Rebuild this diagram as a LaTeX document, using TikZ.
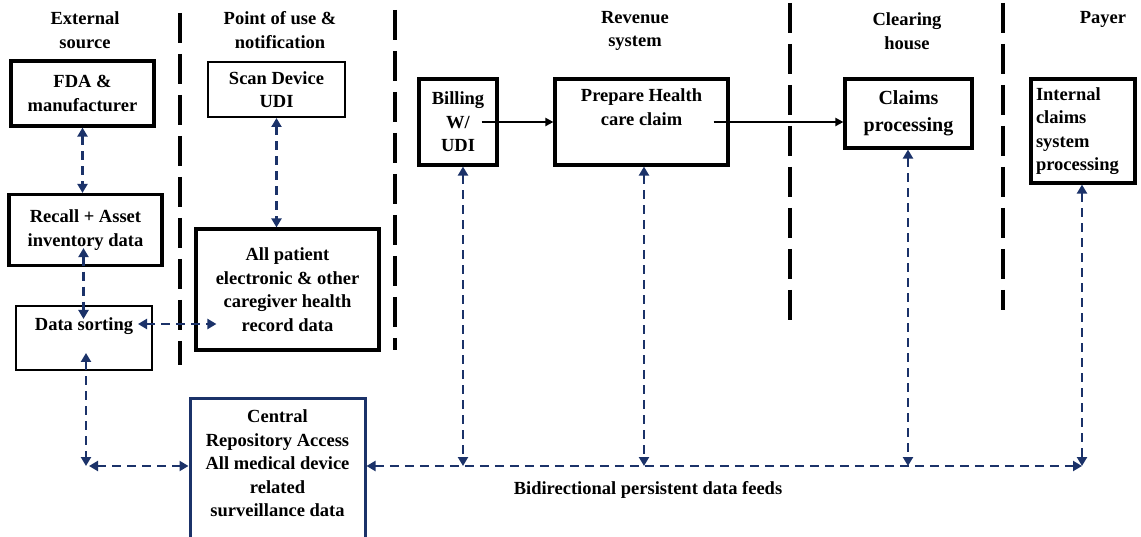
\documentclass[tikz,border=0pt]{standalone}
\usepackage{fontspec}
\setmainfont{Liberation Serif}
\usetikzlibrary{arrows.meta,calc}

\definecolor{navy}{RGB}{27,50,105}

\tikzset{
  box/.style={draw, line width=3.2pt, align=center},
  thinbox/.style={draw, line width=2pt, align=center},
  head/.style={align=center},
  feed/.style={navy, line width=2.6pt, dash pattern=on 9pt off 6pt,
    {Triangle[length=9pt,width=10pt]}-{Triangle[length=9pt,width=10pt]}},
  flow/.style={line width=2pt, -{Triangle[length=8pt,width=8pt]}},
  sep/.style={line width=3.8pt, dash pattern=on 30pt off 11pt},
  toplabel/.style={anchor=north, align=center, yshift=#1}
}

\begin{document}
\begin{tikzpicture}[x=1pt, y=-1pt, font=\bfseries\fontsize{18.5}{23.5}\selectfont]

        \useasboundingbox (0,0) rectangle (1141,537);

        % column headings
        \node[head] (hext) at (85,30) {External\\source};
        \node[head] (huse) at (280,30) {Point of use \&\\notification};
        \node[head] (hrev) at (635,31) {Revenue\\system};
        \node[head] (hclear) at (907,31) {Clearing\\house};
        \node[head] (hpayer) at (1103,19) {Payer};

        \draw[sep] (180,13) -- (180,365);
        \draw[sep] (395,10) -- (395,350);
        \draw[sep] (790,3) -- (790,320);
        \draw[sep] (1003,3) -- (1003,310);

        \node[box, minimum width=143pt, minimum height=65pt] (fda) at (82.5,93.5) {FDA \&\\manufacturer};
        \node[thinbox, minimum width=137pt, minimum height=55pt] (scan) at (276.5,89.5) {Scan Device\\UDI};
        \node[box, minimum width=153pt, minimum height=71pt] (recall) at (85.5,230) {Recall + Asset\\inventory data};
        \node[box, minimum width=183pt, minimum height=121pt] (patient) at (287.5,289.5) {All patient\\electronic \& other\\caregiver health\\record data};
        \node[thinbox, minimum width=136pt, minimum height=64pt,
          label={[toplabel=-9pt]north:Data sorting}] (sorting) at (84,338) {};
        \node[draw=navy, line width=3pt, minimum width=175pt, minimum height=150pt,
          label={[toplabel=-10pt]north:Central\\Repository Access\\All medical device\\related\\surveillance data}] (central) at (277.5,473) {};

        \node[box, minimum width=78pt, minimum height=86pt] (billing) at (458,122) {Billing\\W/\\UDI};
        \node[box, minimum width=173pt, minimum height=86pt,
          label={[toplabel=-8pt]north:Prepare Health\\care claim}] (prepare) at (641.5,122) {};
        \node[box, minimum width=127pt, minimum height=69pt,
          font=\bfseries\fontsize{20}{27}\selectfont] (claims) at (908.5,113.5) {Claims\\processing};
        \node[box, align=left, text width=94pt, inner sep=5pt, minimum height=104pt] (internal) at (1083,131) {Internal\\claims\\system\\processing};

        \node (feeds) at (648,490) {Bidirectional persistent data feeds};

        \coordinate (corner) at (86,466);
        \coordinate (b1) at (463,466);
        \coordinate (b2) at (644,466);
        \coordinate (b3) at (908,466);
        \coordinate (b4) at (1082,466);

        \draw[flow] ($(billing.east)+(-17,0)$) -- (prepare.west);
        \draw[flow] ($(prepare.east)+(-16,0)$) -- (prepare.east -| claims.west);

        \draw[feed] (fda.south) -- (fda.south |- recall.north);
        \draw[feed] (scan.south) -- (scan.south |- patient.north);
        \draw[feed] ($(recall.south)+(-2,-19)$) -- ($(recall.south |- sorting.north)+(-2,14)$);
        \draw[feed] ($(sorting.north east)+(-15,19)$) -- ($(sorting.north east -| patient.west)+(22,19)$);
        \draw[feed] ($(corner |- sorting.south)+(0,-18)$) -- (corner);
        \draw[feed] ($(corner)+(3,0)$) -- (corner -| central.west);
        \draw[feed] (central.east |- corner) -- (b4);

        \draw[feed] (billing.south -| b1) -- (b1);
        \draw[feed] (prepare.south -| b2) -- (b2);
        \draw[feed] (claims.south -| b3) -- (b3);
        \draw[feed] (internal.south -| b4) -- (b4);

\end{tikzpicture}
\end{document}
